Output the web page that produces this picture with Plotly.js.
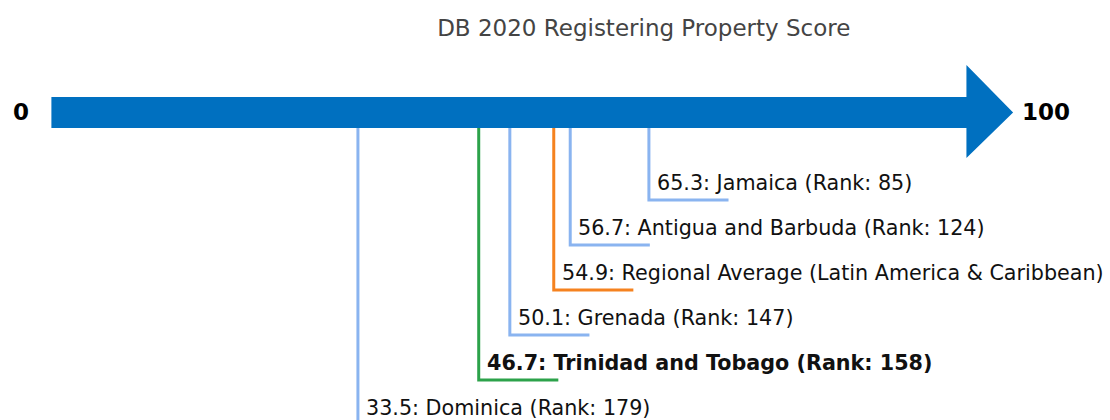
<!DOCTYPE html>
<html>
<head>
<meta charset="utf-8">
<script src="https://cdn.plot.ly/plotly-3.0.1.min.js"></script>
<style>
html,body{margin:0;padding:0;background:#fff;}
#chart{width:1110px;height:420px;}
</style>
</head>
<body>
<div id="chart"></div>
<script>
// ---- data ----
const names = ["Jamaica", "Antigua and Barbuda", "Regional Average (Latin America & Caribbean)", "Grenada", "Trinidad and Tobago", "Dominica"];
const scores = [65.3, 56.7, 54.9, 50.1, 46.7, 33.5];
const ranks = [85, 124, null, 147, 158, 179];
const kinds = ["peer", "peer", "region", "peer", "focus", "peer"];
const levels = [2, 3, 4, 5, 6, 7];
const scaleMin = 0;
const scaleMax = 100;
const chartTitle = "DB 2020 Registering Property Score";

// ---- style ----
const colors = {peer: "#8ab4f0", region: "#f5821f", focus: "#2ca24a"};
const arrowColor = "#0070c0";
const font = "DejaVu Sans, Verdana, sans-serif";
const segLen = 8.7;
const labelLift = 0.38;
const shaftTop = -0.289, shaftBot = 0.4, headTop = -1.0, headBot = 1.067, tipLen = 5.1;
const mid = (shaftTop + shaftBot) / 2;

const traces = [];
const annotations = [];
for (let i = 0; i < names.length; i++) {
  const v = scores[i];
  traces.push({
    type: "scatter", mode: "lines",
    x: [v, v, v + segLen],
    y: [shaftBot, levels[i], levels[i]],
    line: {color: colors[kinds[i]], width: 3},
    hoverinfo: "skip", showlegend: false
  });
  let label = v.toFixed(1) + ": " + names[i] + (ranks[i] !== null ? " (Rank: " + ranks[i] + ")" : "");
  const bold = kinds[i] === "focus";
  annotations.push({
    x: v, y: levels[i] - labelLift, xref: "x", yref: "y",
    text: bold ? "<b>" + label + "</b>" : label,
    showarrow: false, xanchor: "left", yanchor: "middle",
    xshift: 7, borderpad: 0,
    font: {family: font, size: 20.7, color: "#111"}
  });
}

annotations.push({
  x: scaleMin, y: mid, xref: "x", yref: "y", text: "<b>" + scaleMin + "</b>",
  showarrow: false, xanchor: "right", yanchor: "middle", xshift: -20,
  font: {family: font, size: 23, color: "#000"}
});
annotations.push({
  x: scaleMax + tipLen, y: mid, xref: "x", yref: "y", text: "<b>" + scaleMax + "</b>",
  showarrow: false, xanchor: "left", yanchor: "middle", xshift: 7,
  font: {family: font, size: 23, color: "#000"}
});

const arrowPath = `M ${scaleMin},${shaftTop} L ${scaleMax},${shaftTop} L ${scaleMax},${headTop} L ${scaleMax + tipLen},${mid} L ${scaleMax},${headBot} L ${scaleMax},${shaftBot} L ${scaleMin},${shaftBot} Z`;

const layout = {
  width: 1110, height: 420,
  margin: {l: 0, r: 0, t: 0, b: 0},
  paper_bgcolor: "#fff", plot_bgcolor: "#fff",
  title: {text: chartTitle, x: 0.58, xanchor: "center", y: 0.933, yanchor: "middle",
          font: {family: font, size: 23, color: "#444"}},
  xaxis: {range: [-5.617, 115.69], visible: false, fixedrange: true},
  yaxis: {range: [6.889, -2.444], visible: false, fixedrange: true},
  shapes: [{type: "path", path: arrowPath, xref: "x", yref: "y",
            fillcolor: arrowColor, line: {width: 0}, layer: "above"}],
  annotations: annotations,
  showlegend: false
};

Plotly.newPlot("chart", traces, layout, {displayModeBar: false, staticPlot: true});
</script>
</body>
</html>
